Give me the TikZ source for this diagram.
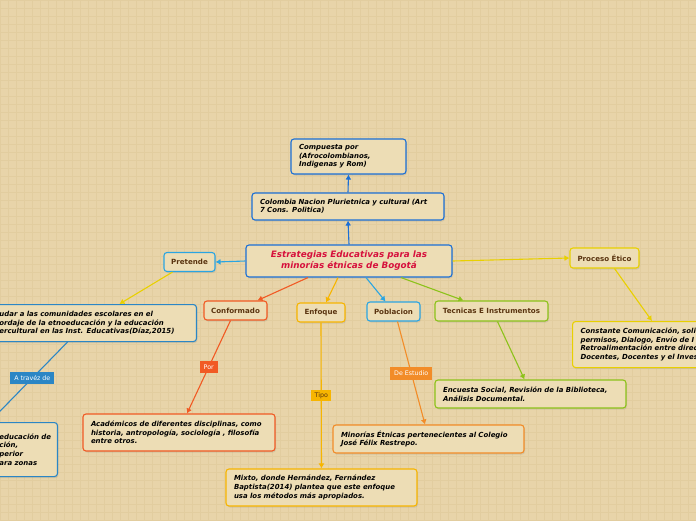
\documentclass[tikz,border=0pt]{standalone}
\usepackage{fontspec}
\setmainfont{DejaVu Sans}
\usetikzlibrary{shadows,arrows.meta}
\definecolor{bgtan}{HTML}{E8D4A9}
\definecolor{bggrid}{HTML}{E2CD9F}
\definecolor{boxfill}{HTML}{EDDDB5}
\definecolor{dblue}{HTML}{1B6FD6}
\definecolor{cyanb}{HTML}{2AA5E2}
\definecolor{lblue}{HTML}{2B86C5}
\definecolor{redor}{HTML}{F15A24}
\definecolor{goldor}{HTML}{F7B500}
\definecolor{orng}{HTML}{F28C28}
\definecolor{grn}{HTML}{8CC21A}
\definecolor{yell}{HTML}{E8D000}
\definecolor{brwn}{HTML}{5A3410}
\definecolor{titred}{HTML}{D6103C}
\tikzset{
  box/.style={draw, rounded corners=3pt, line width=1.1pt, fill=boxfill,
    drop shadow={opacity=0.2, shadow xshift=1pt, shadow yshift=-1.5pt}},
  txtbox/.style={box, align=left, inner xsep=8pt, inner ysep=4pt,
    font=\fontsize{6.95}{8.6}\selectfont\bfseries\itshape},
  keybox/.style={box, inner sep=0pt, text=brwn,
    font=\fontsize{7.1}{8}\selectfont\bfseries},
  tag/.style={inner sep=0pt, font=\fontsize{6.3}{7}\selectfont},
  conn/.style={line width=1.1pt, -{Latex[length=5pt,width=6pt]}}
}
\begin{document}
\begin{tikzpicture}[x=1pt,y=-1pt]
\useasboundingbox (0,0) rectangle (696,520);
\clip (0,0) rectangle (696,520);
\fill[bgtan] (0,0) rectangle (696,520);
\draw[bggrid, line width=0.5pt, step=8pt] (0,0) grid (696,520);
% centro y arriba
\node[box, draw=dblue, text=titred, align=center, minimum width=206pt, minimum height=32pt,
  font=\fontsize{8.8}{11}\selectfont\bfseries\itshape] (main) at (349,261)
  {Estrategias Educativas para las\\minorías étnicas de Bogotá};
\node[txtbox, draw=dblue, text width=176pt, minimum height=27pt] (colombia) at (348,206.5)
  {Colombia Nacion Plurietnica y cultural (Art\\7 Cons. Politica)};
\node[txtbox, draw=dblue, text width=99pt, minimum height=35pt] (compuesta) at (348.5,156.5)
  {Compuesta por\\(Afrocolombianos,\\Indigenas y Rom)};
% ramas
\node[keybox, draw=cyanb, minimum width=51pt, minimum height=19pt] (pretende) at (189.5,262) {Pretende};
\node[keybox, draw=yell, minimum width=69pt, minimum height=20pt] (proceso) at (604.5,258) {Proceso Ético};
\node[keybox, draw=redor, minimum width=63pt, minimum height=19pt] (conf) at (235.5,310.5) {Conformado};
\node[keybox, draw=goldor, minimum width=48pt, minimum height=19pt] (enfoque) at (321,312.5) {Enfoque};
\node[keybox, draw=cyanb, minimum width=53pt, minimum height=19pt] (pobl) at (393.5,311.5) {Poblacion};
\node[keybox, draw=grn, minimum width=113pt, minimum height=20pt] (tecnicas) at (491.5,311) {Tecnicas E Instrumentos};
% hojas
\node[txtbox, draw=lblue, anchor=north east, text width=189pt, minimum height=37pt] (ayudar) at (197,304)
  {udar a las comunidades escolares en el\\ordaje de la etnoeducación y la educación\\ercultural en las Inst. Educativas(Díaz,2015)};
\node[txtbox, draw=lblue, anchor=north east, text width=50pt, minimum height=54pt] (etno) at (58,422)
  {\mbox{educación de}\\ción,\\perior\\\mbox{ara zonas}};
\node[txtbox, draw=redor, text width=176pt, minimum height=37pt] (acad) at (179,432.5)
  {Académicos de diferentes disciplinas, como\\historia, antropología, sociología , filosofía\\entre otros.};
\node[txtbox, draw=goldor, text width=175pt, minimum height=37pt] (mixto) at (321.5,487.5)
  {Mixto, donde Hernández, Fernández\\Baptista(2014) plantea que este enfoque\\usa los métodos más apropiados.};
\node[txtbox, draw=orng, text width=175pt, minimum height=28pt] (minorias) at (428.5,439)
  {Minorías Étnicas pertenecientes al Colegio\\José Félix Restrepo.};
\node[txtbox, draw=grn, text width=175pt, minimum height=28pt] (encuesta) at (530.5,394)
  {Encuesta Social, Revisión de la Biblioteca,\\Análisis Documental.};
\node[txtbox, draw=yell, anchor=north west, text width=184pt, minimum height=46pt] (constante) at (572,321)
  {Constante Comunicación, soli\\permisos, Dialogo, Envío de I\\Retroalimentación entre direc\\Docentes, Docentes y el Inves};
% conectores
\draw[conn, dblue] (main.north) -- (colombia.south);
\draw[conn, dblue] (colombia.north) -- (compuesta.south);
\draw[conn, cyanb] (main.west) -- (pretende.east);
\draw[conn, yell] ([xshift=-17pt]pretende.south) -- ([xshift=25.5pt]ayudar.north);
\draw[conn, lblue] ([xshift=-26.5pt]ayudar.south) -- ([xshift=-35pt]etno.north)
  node[tag, pos=0.45, fill=lblue, text=white, minimum width=44pt, minimum height=12pt] (travez) {A travéz de};
\draw[conn, redor] ([xshift=-41pt]main.south) -- ([xshift=22pt]conf.north);
\draw[conn, goldor] ([xshift=-11pt]main.south) -- ([xshift=5pt]enfoque.north);
\draw[conn, cyanb] ([xshift=17pt]main.south) -- ([xshift=-8pt]pobl.north);
\draw[conn, grn] ([xshift=52pt]main.south) -- ([xshift=-28pt]tecnicas.north);
\draw[conn, yell] (main.east) -- (proceso.west);
\draw[conn, yell] ([xshift=10pt]proceso.south) -- ([xshift=80pt]constante.north west);
\draw[conn, grn] ([xshift=6pt]tecnicas.south) -- ([xshift=-6pt]encuesta.north);
\draw[conn, redor] ([xshift=-5pt]conf.south) -- ([xshift=8pt]acad.north)
  node[tag, midway, fill=redor, text=white, minimum width=18pt, minimum height=12pt] (por) {Por};
\draw[conn, goldor] (enfoque.south) -- (mixto.north)
  node[tag, midway, fill=goldor, text=brwn, minimum width=20pt, minimum height=11pt] (tipo) {Tipo};
\draw[conn, orng] ([xshift=4pt]pobl.south) -- ([xshift=-3.5pt]minorias.north)
  node[tag, midway, fill=orng, text=white, minimum width=42pt, minimum height=13pt] (estudio) {De Estudio};
\end{tikzpicture}
\end{document}
